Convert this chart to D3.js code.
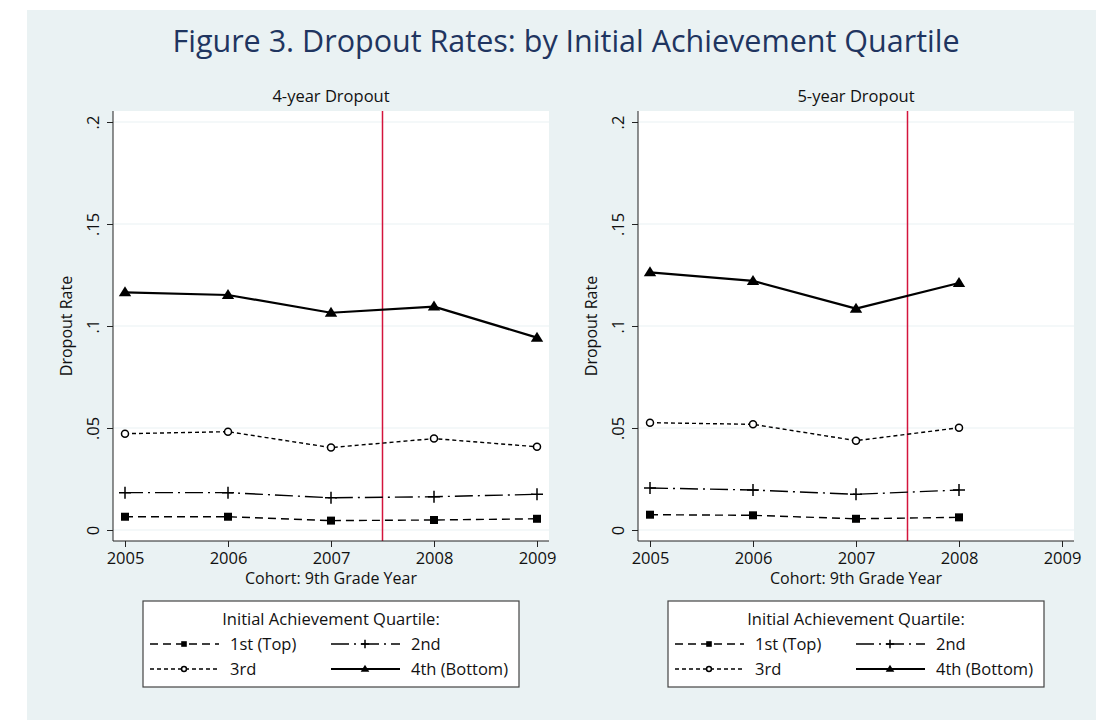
<!DOCTYPE html>
<html>
<head>
<meta charset="utf-8">
<script src="https://cdn.jsdelivr.net/npm/d3@7"></script>
<style>
  html, body { margin: 0; padding: 0; background: #ffffff; }
  svg { display: block; font-family: "Open Sans", sans-serif; }
</style>
</head>
<body>
<svg id="chart" width="1096" height="720"></svg>
<script>
// ---- data ----
const years = [2005, 2006, 2007, 2008, 2009];
const yTicks = [0, 0.05, 0.1, 0.15, 0.2];
const yTickLabels = ["0", ".05", ".1", ".15", ".2"];
const quartiles = ["1st (Top)", "2nd", "3rd", "4th (Bottom)"];
const panelTitles = ["4-year Dropout", "5-year Dropout"];
const cutoffYear = 2007.5;

// 4-year dropout rates by cohort
const fourYearQ1 = [0.0065, 0.0065, 0.0046, 0.0049, 0.0055];
const fourYearQ2 = [0.0183, 0.0183, 0.0158, 0.0163, 0.0175];
const fourYearQ3 = [0.0472, 0.0482, 0.0404, 0.0448, 0.0408];
const fourYearQ4 = [0.1165, 0.1152, 0.1065, 0.1095, 0.0943];

// 5-year dropout rates by cohort (2009 cohort not yet observed)
const fiveYearQ1 = [0.0075, 0.0072, 0.0055, 0.0062, null];
const fiveYearQ2 = [0.0206, 0.0196, 0.0175, 0.0196, null];
const fiveYearQ3 = [0.0526, 0.0518, 0.0438, 0.0501, null];
const fiveYearQ4 = [0.1263, 0.1221, 0.1085, 0.1211, null];

const panels = [
  { title: panelTitles[0], series: [fourYearQ1, fourYearQ2, fourYearQ3, fourYearQ4] },
  { title: panelTitles[1], series: [fiveYearQ1, fiveYearQ2, fiveYearQ3, fiveYearQ4] }
];

// ---- styling ----
const bg = "#eaf2f3";
const styles = [
  { dash: "8,5", width: 1.4, marker: "square" },
  { dash: "18,5,2,5", width: 1.4, marker: "plus" },
  { dash: "4,3", width: 1.4, marker: "circle" },
  { dash: null, width: 2.2, marker: "triangle" }
];

const svg = d3.select("#chart");

// figure background
svg.append("rect").attr("x", 27).attr("y", 10).attr("width", 1069).attr("height", 710).attr("fill", bg);

svg.append("text")
  .attr("x", 566).attr("y", 52)
  .attr("text-anchor", "middle")
  .attr("font-size", 30.5)
  .attr("fill", "#1f3560")
  .text("Figure 3. Dropout Rates: by Initial Achievement Quartile");

const plotW = 436, plotH = 430;
const x = d3.scaleLinear().domain([2005 - 12 / 103, 2009 + 12 / 103]).range([0, plotW]);
const y = d3.scaleLinear().domain([-11 / 2040, 0.2 + 11 / 2040]).range([plotH, 0]);

function drawMarker(g, type, cx, cy, scale) {
  const s = scale || 1;
  if (type === "square") {
    const a = 8 * s;
    g.append("rect").attr("x", cx - a / 2).attr("y", cy - a / 2).attr("width", a).attr("height", a).attr("fill", "#000");
  } else if (type === "plus") {
    const a = 6 * s;
    g.append("path").attr("d", `M${cx - a},${cy}H${cx + a}M${cx},${cy - a}V${cy + a}`)
      .attr("stroke", "#000").attr("stroke-width", 1.5).attr("fill", "none");
  } else if (type === "circle") {
    g.append("circle").attr("cx", cx).attr("cy", cy).attr("r", 3.5 * s)
      .attr("fill", "#fff").attr("stroke", "#000").attr("stroke-width", 1.5);
  } else if (type === "triangle") {
    const w = 6.2 * s, h = 10 * s;
    g.append("path").attr("d", `M${cx},${cy - h * 0.6}L${cx + w},${cy + h * 0.4}L${cx - w},${cy + h * 0.4}Z`).attr("fill", "#000");
  }
}

const panelX = [113, 638];
const panelTop = 111;

panels.forEach((p, pi) => {
  const g = svg.append("g").attr("transform", `translate(${panelX[pi]},${panelTop})`);

  g.append("rect").attr("width", plotW).attr("height", plotH).attr("fill", "#fff");

  // gridlines
  g.selectAll(".grid").data(yTicks).join("line")
    .attr("x1", 0).attr("x2", plotW)
    .attr("y1", d => y(d)).attr("y2", d => y(d))
    .attr("stroke", bg).attr("stroke-width", 1.2);

  // cutoff line
  g.append("line")
    .attr("x1", x(cutoffYear)).attr("x2", x(cutoffYear))
    .attr("y1", 0).attr("y2", plotH)
    .attr("stroke", "#d4143c").attr("stroke-width", 1.5);

  // y axis
  const yAxis = d3.axisLeft(y).tickValues(yTicks).tickSize(6).tickPadding(8)
    .tickFormat((d, i) => yTickLabels[i]);
  const ya = g.append("g").call(yAxis);
  ya.select(".domain").attr("stroke", "#222").attr("d", `M0,0V${plotH}`);
  ya.selectAll(".tick line").attr("stroke", "#222");
  // rotated labels are positioned in the tick's rotated frame
  ya.selectAll(".tick text")
    .attr("font-size", 16.5).attr("fill", "#111")
    .attr("font-family", "Open Sans")
    .attr("transform", "rotate(-90)")
    .attr("x", 0).attr("y", -20).attr("dy", "0.35em")
    .attr("text-anchor", "middle");

  // x axis
  const xAxis = d3.axisBottom(x).tickValues(years).tickSize(6).tickPadding(5).tickFormat(d3.format("d"));
  const xa = g.append("g").attr("transform", `translate(0,${plotH})`).call(xAxis);
  xa.select(".domain").attr("stroke", "#222").attr("d", `M0,0H${plotW}`);
  xa.selectAll(".tick line").attr("stroke", "#222");
  xa.selectAll(".tick text").attr("font-size", 16.5).attr("fill", "#111").attr("font-family", "Open Sans");

  // axis titles
  g.append("text")
    .attr("transform", `translate(${-41},${plotH / 2}) rotate(-90)`)
    .attr("text-anchor", "middle").attr("font-size", 16).attr("fill", "#111")
    .text("Dropout Rate");
  g.append("text")
    .attr("x", plotW / 2).attr("y", plotH + 43)
    .attr("text-anchor", "middle").attr("font-size", 16).attr("fill", "#111")
    .text("Cohort: 9th Grade Year");

  // panel title
  g.append("text")
    .attr("x", plotW / 2).attr("y", -9)
    .attr("text-anchor", "middle").attr("font-size", 16.5).attr("fill", "#111")
    .text(p.title);

  // series
  const line = d3.line().defined(d => d.v !== null).x(d => x(d.year)).y(d => y(d.v));
  p.series.forEach((vals, si) => {
    const st = styles[si];
    const pts = years.map((yr, i) => ({ year: yr, v: vals[i] }));
    g.append("path").datum(pts)
      .attr("d", line)
      .attr("fill", "none").attr("stroke", "#000")
      .attr("stroke-width", st.width)
      .attr("stroke-dasharray", st.dash)
      .attr("stroke-linejoin", "round");
    pts.filter(d => d.v !== null).forEach(d => drawMarker(g, st.marker, x(d.year), y(d.v), 1));
  });

  // legend
  const lg = svg.append("g").attr("transform", `translate(${panelX[pi] + plotW / 2 - 188},601)`);
  lg.append("rect").attr("width", 376).attr("height", 86)
    .attr("fill", "#fff").attr("stroke", "#444").attr("stroke-width", 1.2);
  lg.append("text").attr("x", 188).attr("y", 24).attr("text-anchor", "middle")
    .attr("font-size", 16.5).attr("fill", "#111").text("Initial Achievement Quartile:");
  quartiles.forEach((q, qi) => {
    const col = qi % 2, row = Math.floor(qi / 2);
    const x0 = col === 0 ? 7 : 188;
    const ly = row === 0 ? 43 : 68;
    const st = styles[qi];
    lg.append("line").attr("x1", x0).attr("x2", x0 + 69).attr("y1", ly).attr("y2", ly)
      .attr("stroke", "#000").attr("stroke-width", st.width).attr("stroke-dasharray", st.dash);
    drawMarker(lg, st.marker, x0 + 34, ly, 0.7);
    lg.append("text").attr("x", x0 + 80).attr("y", ly + 6)
      .attr("font-size", 16.5).attr("fill", "#111").text(q);
  });
});
</script>
</body>
</html>
